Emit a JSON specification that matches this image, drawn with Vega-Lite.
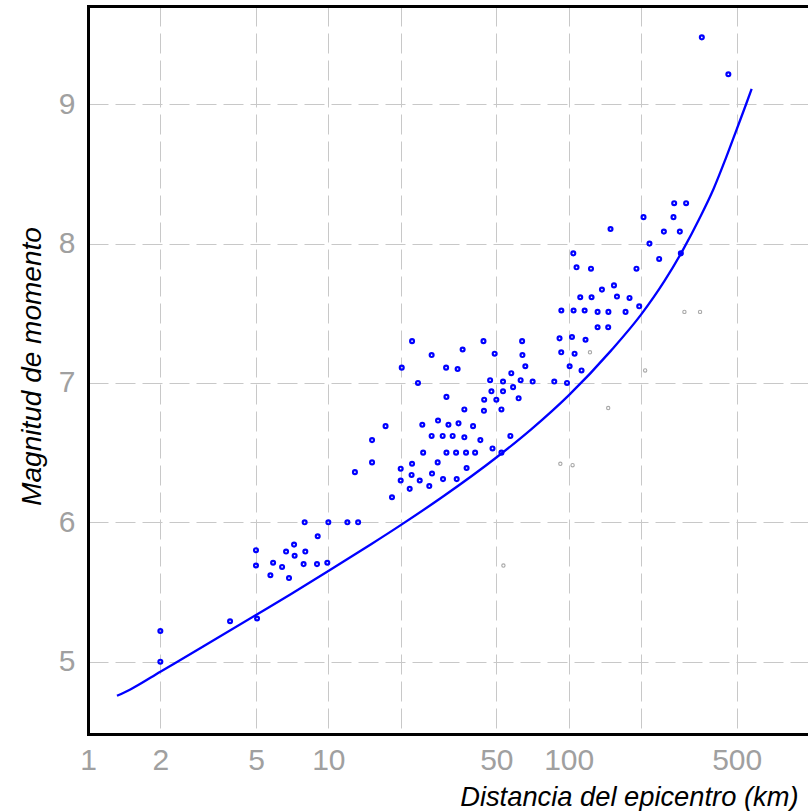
{
  "$schema": "https://vega.github.io/schema/vega-lite/v6.json",
  "autosize": "none",
  "width": 720,
  "height": 728,
  "padding": {"left": 88, "top": 6, "right": 0, "bottom": 77},
  "background": "white",
  "config": {"view": {"stroke": null}, "font": "Liberation Sans"},
  "datasets": {
    "puntos": [
      {"d": 2, "m": 5.22, "g": "azul"}, {"d": 2, "m": 5.0, "g": "azul"}, {"d": 3.9, "m": 5.29, "g": "azul"},
      {"d": 5.05, "m": 5.31, "g": "azul"}, {"d": 5.0, "m": 5.8, "g": "azul"}, {"d": 5.0, "m": 5.69, "g": "azul"},
      {"d": 5.74, "m": 5.62, "g": "azul"}, {"d": 5.89, "m": 5.71, "g": "azul"}, {"d": 6.42, "m": 5.68, "g": "azul"},
      {"d": 6.67, "m": 5.79, "g": "azul"}, {"d": 6.86, "m": 5.6, "g": "azul"}, {"d": 7.2, "m": 5.84, "g": "azul"},
      {"d": 7.24, "m": 5.76, "g": "azul"}, {"d": 7.89, "m": 5.7, "g": "azul"}, {"d": 7.97, "m": 6.0, "g": "azul"},
      {"d": 8.02, "m": 5.79, "g": "azul"}, {"d": 8.97, "m": 5.7, "g": "azul"}, {"d": 9.03, "m": 5.9, "g": "azul"},
      {"d": 9.9, "m": 5.71, "g": "azul"}, {"d": 10.0, "m": 6.0, "g": "azul"}, {"d": 12.0, "m": 6.0, "g": "azul"},
      {"d": 13.3, "m": 6.0, "g": "azul"}, {"d": 12.9, "m": 6.36, "g": "azul"}, {"d": 15.2, "m": 6.59, "g": "azul"},
      {"d": 15.2, "m": 6.43, "g": "azul"}, {"d": 17.3, "m": 6.69, "g": "azul"}, {"d": 18.4, "m": 6.18, "g": "azul"},
      {"d": 20.2, "m": 7.11, "g": "azul"}, {"d": 20.0, "m": 6.385, "g": "azul"}, {"d": 20.0, "m": 6.3, "g": "azul"},
      {"d": 22.3, "m": 7.3, "g": "azul"}, {"d": 22.3, "m": 6.42, "g": "azul"}, {"d": 22.2, "m": 6.34, "g": "azul"},
      {"d": 21.8, "m": 6.24, "g": "azul"}, {"d": 23.6, "m": 7.0, "g": "azul"}, {"d": 24.0, "m": 6.3, "g": "azul"},
      {"d": 24.6, "m": 6.7, "g": "azul"}, {"d": 24.8, "m": 6.5, "g": "azul"}, {"d": 26.3, "m": 6.26, "g": "azul"},
      {"d": 26.9, "m": 7.2, "g": "azul"}, {"d": 26.9, "m": 6.62, "g": "azul"}, {"d": 27.0, "m": 6.35, "g": "azul"},
      {"d": 28.5, "m": 6.43, "g": "azul"}, {"d": 28.6, "m": 6.73, "g": "azul"}, {"d": 29.9, "m": 6.62, "g": "azul"},
      {"d": 30.0, "m": 6.31, "g": "azul"}, {"d": 30.9, "m": 7.11, "g": "azul"}, {"d": 31.0, "m": 6.9, "g": "azul"},
      {"d": 31.0, "m": 6.5, "g": "azul"}, {"d": 31.6, "m": 6.7, "g": "azul"}, {"d": 32.9, "m": 6.62, "g": "azul"},
      {"d": 34.0, "m": 6.5, "g": "azul"}, {"d": 34.2, "m": 6.31, "g": "azul"}, {"d": 34.5, "m": 7.1, "g": "azul"},
      {"d": 34.8, "m": 6.71, "g": "azul"}, {"d": 36.2, "m": 7.24, "g": "azul"}, {"d": 36.8, "m": 6.81, "g": "azul"},
      {"d": 36.8, "m": 6.61, "g": "azul"}, {"d": 37.4, "m": 6.5, "g": "azul"}, {"d": 37.6, "m": 6.39, "g": "azul"},
      {"d": 40.0, "m": 6.69, "g": "azul"}, {"d": 40.8, "m": 6.5, "g": "azul"}, {"d": 42.9, "m": 6.59, "g": "azul"},
      {"d": 44.2, "m": 7.3, "g": "azul"}, {"d": 44.4, "m": 6.8, "g": "azul"}, {"d": 44.5, "m": 6.88, "g": "azul"},
      {"d": 47.1, "m": 7.02, "g": "azul"}, {"d": 47.7, "m": 6.94, "g": "azul"}, {"d": 48.2, "m": 6.53, "g": "azul"},
      {"d": 49.2, "m": 7.21, "g": "azul"}, {"d": 50.0, "m": 6.88, "g": "azul"}, {"d": 52.5, "m": 6.81, "g": "azul"},
      {"d": 52.5, "m": 6.5, "g": "azul"}, {"d": 53.3, "m": 7.01, "g": "azul"}, {"d": 53.3, "m": 6.94, "g": "azul"},
      {"d": 57.2, "m": 6.62, "g": "azul"}, {"d": 57.7, "m": 7.07, "g": "azul"}, {"d": 58.7, "m": 6.97, "g": "azul"},
      {"d": 61.9, "m": 6.89, "g": "azul"}, {"d": 63.1, "m": 7.02, "g": "azul"}, {"d": 64.0, "m": 7.3, "g": "azul"},
      {"d": 64.2, "m": 7.2, "g": "azul"}, {"d": 66.0, "m": 7.12, "g": "azul"}, {"d": 70.8, "m": 7.01, "g": "azul"},
      {"d": 87.1, "m": 7.01, "g": "azul"}, {"d": 91.6, "m": 7.32, "g": "azul"}, {"d": 93.1, "m": 7.22, "g": "azul"},
      {"d": 98.4, "m": 7.0, "g": "azul"}, {"d": 100.9, "m": 7.12, "g": "azul"}, {"d": 103.2, "m": 7.33, "g": "azul"},
      {"d": 105.8, "m": 7.21, "g": "azul"}, {"d": 113.1, "m": 7.09, "g": "azul"}, {"d": 117.5, "m": 7.31, "g": "azul"},
      {"d": 131.9, "m": 7.4, "g": "azul"}, {"d": 146, "m": 7.4, "g": "azul"}, {"d": 93.2, "m": 7.52, "g": "azul"},
      {"d": 104.8, "m": 7.52, "g": "azul"}, {"d": 116.5, "m": 7.52, "g": "azul"}, {"d": 131.9, "m": 7.51, "g": "azul"},
      {"d": 146.3, "m": 7.51, "g": "azul"}, {"d": 172.4, "m": 7.51, "g": "azul"}, {"d": 196.5, "m": 7.55, "g": "azul"},
      {"d": 111.7, "m": 7.615, "g": "azul"}, {"d": 124.5, "m": 7.615, "g": "azul"}, {"d": 137.5, "m": 7.67, "g": "azul"},
      {"d": 154.3, "m": 7.7, "g": "azul"}, {"d": 158.8, "m": 7.62, "g": "azul"}, {"d": 179.1, "m": 7.61, "g": "azul"},
      {"d": 104.5, "m": 7.93, "g": "azul"}, {"d": 107.8, "m": 7.83, "g": "azul"}, {"d": 123.8, "m": 7.82, "g": "azul"},
      {"d": 149.3, "m": 8.105, "g": "azul"}, {"d": 191.4, "m": 7.82, "g": "azul"}, {"d": 216.8, "m": 8.0, "g": "azul"},
      {"d": 204.8, "m": 8.19, "g": "azul"}, {"d": 237.9, "m": 7.89, "g": "azul"}, {"d": 248.9, "m": 8.086, "g": "azul"},
      {"d": 272.9, "m": 8.19, "g": "azul"}, {"d": 274.7, "m": 8.29, "g": "azul"}, {"d": 308, "m": 8.29, "g": "azul"},
      {"d": 290, "m": 8.086, "g": "azul"}, {"d": 292.8, "m": 7.93, "g": "azul"}, {"d": 358, "m": 9.48, "g": "azul"},
      {"d": 461.6, "m": 9.215, "g": "azul"},
      {"d": 122.6, "m": 7.22, "g": "gris"}, {"d": 92.3, "m": 6.42, "g": "gris"}, {"d": 103.8, "m": 6.41, "g": "gris"},
      {"d": 53.5, "m": 5.69, "g": "gris"}, {"d": 208, "m": 7.09, "g": "gris"}, {"d": 146, "m": 6.82, "g": "gris"},
      {"d": 303, "m": 7.51, "g": "gris"}, {"d": 352, "m": 7.51, "g": "gris"}
    ],
    "curva": [
      {"d": 1.32, "m": 4.755}, {"d": 1.5, "m": 4.801}, {"d": 2, "m": 4.928}, {"d": 3, "m": 5.107},
      {"d": 5, "m": 5.335}, {"d": 7, "m": 5.486}, {"d": 10, "m": 5.65}, {"d": 15, "m": 5.841},
      {"d": 20, "m": 5.98}, {"d": 30, "m": 6.185}, {"d": 50, "m": 6.465}, {"d": 70, "m": 6.669},
      {"d": 100, "m": 6.911}, {"d": 150, "m": 7.232}, {"d": 200, "m": 7.49}, {"d": 250, "m": 7.73},
      {"d": 300, "m": 7.96}, {"d": 350, "m": 8.18}, {"d": 400, "m": 8.39}, {"d": 450, "m": 8.61},
      {"d": 500, "m": 8.82}, {"d": 547, "m": 9.0}, {"d": 577, "m": 9.11}
    ]
  },
  "layer": [
    {
      "data": {"name": "puntos"},
      "mark": {"type": "point", "shape": "circle", "filled": false, "opacity": 1},
      "encoding": {
        "x": {
          "field": "d", "type": "quantitative",
          "scale": {"type": "log", "domain": [1, 990], "nice": false},
          "axis": {
            "orient": "bottom",
            "values": [1, 2, 5, 10, 20, 50, 100, 200, 500],
            "format": "d",
            "labelExpr": "datum.value == 20 || datum.value == 200 ? '' : datum.label",
            "labelFlush": false,
            "labelOverlap": false,
            "labelColor": "#a0a0a0",
            "labelFont": "Liberation Sans",
            "labelFontSize": 30,
            "labelPadding": 11,
            "ticks": false,
            "domainColor": "#000000",
            "domainWidth": 3,
            "domainCap": "square",
            "grid": true,
            "gridColor": "#c8c8c8",
            "gridWidth": 1,
            "gridDash": [20, 7],
            "title": "Distancia del epicentro (km)",
            "titleFont": "Liberation Sans",
            "titleFontStyle": "italic",
            "titleFontWeight": "normal",
            "titleFontSize": 27.3,
            "titleColor": "#000000",
            "titleAlign": "right",
            "titleBaseline": "alphabetic",
            "titleX": 710,
            "titleY": 71
          }
        },
        "y": {
          "field": "m", "type": "quantitative",
          "scale": {"domain": [4.481, 9.705], "nice": false, "zero": false},
          "axis": {
            "values": [5, 6, 7, 8, 9],
            "format": "d",
            "labelColor": "#a0a0a0",
            "labelFont": "Liberation Sans",
            "labelFontSize": 30,
            "labelPadding": 13,
            "labelFlush": false,
            "ticks": false,
            "domainColor": "#000000",
            "domainWidth": 3,
            "domainCap": "square",
            "grid": true,
            "gridColor": "#c8c8c8",
            "gridWidth": 1,
            "gridDash": [20, 7],
            "title": "Magnitud de momento",
            "titleFont": "Liberation Sans",
            "titleFontStyle": "italic",
            "titleFontWeight": "normal",
            "titleFontSize": 28,
            "titleColor": "#000000",
            "titleAngle": 270,
            "titleAlign": "center",
            "titleBaseline": "alphabetic",
            "titleX": -48,
            "titleY": 360
          }
        },
        "color": {"field": "g", "type": "nominal", "scale": {"domain": ["azul", "gris"], "range": ["#0000ff", "#a8a8a8"]}, "legend": null},
        "size": {"field": "g", "type": "nominal", "scale": {"domain": ["azul", "gris"], "range": [15, 11]}, "legend": null},
        "strokeWidth": {"field": "g", "type": "nominal", "scale": {"domain": ["azul", "gris"], "range": [2.2, 1.1]}, "legend": null}
      }
    },
    {
      "data": {"name": "curva"},
      "mark": {"type": "line", "color": "#0000ff", "strokeWidth": 2.3, "interpolate": "monotone"},
      "encoding": {
        "x": {
          "field": "d", "type": "quantitative",
          "axis": {"orient": "top", "labels": false, "ticks": false, "grid": false, "title": null, "domainColor": "#000000", "domainWidth": 3, "domainCap": "square"}
        },
        "y": {"field": "m", "type": "quantitative"}
      }
    }
  ],
  "resolve": {"axis": {"x": "independent"}}
}
